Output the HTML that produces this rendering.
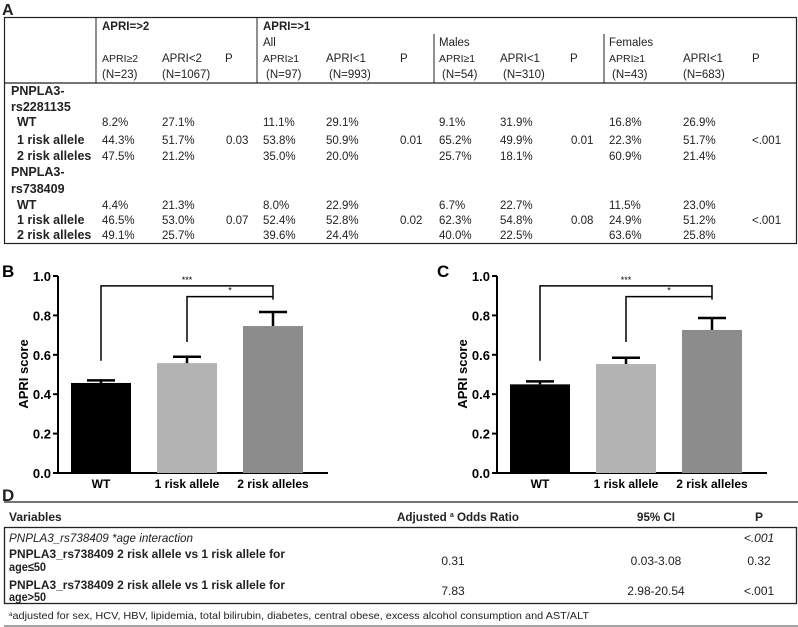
<!DOCTYPE html>
<html><head><meta charset="utf-8"><style>
body{margin:0;background:#fff;}
svg{display:block;font-family:"Liberation Sans",Arial,sans-serif;}
</style></head><body>
<svg id="fig" width="798" height="627" viewBox="0 0 798 627">
<!-- Panel A -->
<g font-size="11.5" fill="#222">
<text x="2" y="15" font-size="16" font-weight="bold">A</text>
<rect x="4.5" y="17.5" width="792" height="226" fill="none" stroke="#222" stroke-width="1.2"/>
<line x1="4" y1="83" x2="797" y2="83" stroke="#222" stroke-width="1.2"/>
<line x1="96" y1="18" x2="96" y2="83" stroke="#222"/>
<line x1="257" y1="18" x2="257" y2="83" stroke="#222"/>
<line x1="434" y1="34" x2="434" y2="83" stroke="#222"/>
<line x1="604" y1="34" x2="604" y2="83" stroke="#222"/>
<g font-weight="bold"><text x="102" y="30">APRI=&gt;2</text><text x="263" y="30">APRI=&gt;1</text></g>
<text x="263" y="46">All</text><text x="439" y="46">Males</text><text x="609" y="46">Females</text>
<g font-size="10.5">
<text x="102" y="62">APRI≥2</text><text x="162" y="62" font-size="11.5">APRI&lt;2</text><text x="225" y="62" font-size="11.5">P</text>
<text x="263" y="62">APRI≥1</text><text x="326" y="62" font-size="11.5">APRI&lt;1</text><text x="400" y="62" font-size="11.5">P</text>
<text x="439" y="62">APRI≥1</text><text x="500" y="62" font-size="11.5">APRI&lt;1</text><text x="570" y="62" font-size="11.5">P</text>
<text x="609" y="62">APRI≥1</text><text x="683" y="62" font-size="11.5">APRI&lt;1</text><text x="752" y="62" font-size="11.5">P</text>
</g>
<text x="102" y="78">(N=23)</text><text x="162" y="78">(N=1067)</text>
<text x="266" y="78">(N=97)</text><text x="329" y="78">(N=993)</text>
<text x="442" y="78">(N=54)</text><text x="503" y="78">(N=310)</text>
<text x="612" y="78">(N=43)</text><text x="683" y="78">(N=683)</text>
<g font-weight="bold" font-size="12.5"><text x="11" y="95">PNPLA3-</text><text x="11" y="111">rs2281135</text>
<text x="17" y="126">WT</text><text x="17" y="144">1 risk allele</text><text x="17" y="160">2 risk alleles</text>
<text x="11" y="176">PNPLA3-</text><text x="11" y="193">rs738409</text>
<text x="17" y="209">WT</text><text x="17" y="224">1 risk allele</text><text x="17" y="239">2 risk alleles</text></g>
<g>
<text x="102" y="126">8.2%</text><text x="162" y="126">27.1%</text><text x="263" y="126">11.1%</text><text x="326" y="126">29.1%</text><text x="439" y="126">9.1%</text><text x="500" y="126">31.9%</text><text x="609" y="126">16.8%</text><text x="683" y="126">26.9%</text>
<text x="102" y="144">44.3%</text><text x="162" y="144">51.7%</text><text x="226" y="144">0.03</text><text x="263" y="144">53.8%</text><text x="326" y="144">50.9%</text><text x="400" y="144">0.01</text><text x="439" y="144">65.2%</text><text x="500" y="144">49.9%</text><text x="571" y="144">0.01</text><text x="609" y="144">22.3%</text><text x="683" y="144">51.7%</text><text x="752" y="144">&lt;.001</text>
<text x="102" y="160">47.5%</text><text x="162" y="160">21.2%</text><text x="263" y="160">35.0%</text><text x="326" y="160">20.0%</text><text x="439" y="160">25.7%</text><text x="500" y="160">18.1%</text><text x="609" y="160">60.9%</text><text x="683" y="160">21.4%</text>
<text x="102" y="209">4.4%</text><text x="162" y="209">21.3%</text><text x="263" y="209">8.0%</text><text x="326" y="209">22.9%</text><text x="439" y="209">6.7%</text><text x="500" y="209">22.7%</text><text x="609" y="209">11.5%</text><text x="683" y="209">23.0%</text>
<text x="102" y="224">46.5%</text><text x="162" y="224">53.0%</text><text x="226" y="224">0.07</text><text x="263" y="224">52.4%</text><text x="326" y="224">52.8%</text><text x="400" y="224">0.02</text><text x="439" y="224">62.3%</text><text x="500" y="224">54.8%</text><text x="571" y="224">0.08</text><text x="609" y="224">24.9%</text><text x="683" y="224">51.2%</text><text x="752" y="224">&lt;.001</text>
<text x="102" y="239">49.1%</text><text x="162" y="239">25.7%</text><text x="263" y="239">39.6%</text><text x="326" y="239">24.4%</text><text x="439" y="239">40.0%</text><text x="500" y="239">22.5%</text><text x="609" y="239">63.6%</text><text x="683" y="239">25.8%</text>
</g>
</g>
<text x="2" y="277" font-size="17" font-weight="bold">B</text>
<text x="437" y="277" font-size="17" font-weight="bold">C</text>
<g id="chartB"></g>
<g id="chartC"></g>
<!-- Panel D -->
<g font-size="12" fill="#222">
<text x="2" y="501" font-size="17" font-weight="bold">D</text>
<line x1="4" y1="502" x2="798" y2="502" stroke="#222" stroke-width="1.2"/>
<text x="9" y="521" font-weight="bold">Variables</text>
<text x="397" y="521" font-weight="bold" textLength="122" lengthAdjust="spacingAndGlyphs">Adjusted <tspan font-size="7" dy="-4">a</tspan><tspan dy="4"> Odds Ratio</tspan></text>
<text x="637" y="521" font-weight="bold" textLength="38" lengthAdjust="spacingAndGlyphs">95% CI</text>
<text x="759" y="521" font-weight="bold" text-anchor="middle">P</text>
<rect x="4.5" y="527.5" width="792" height="76" fill="none" stroke="#222" stroke-width="1.3"/>
<text x="9" y="542" font-style="italic" textLength="184" lengthAdjust="spacingAndGlyphs">PNPLA3_rs738409 *age interaction</text>
<text x="759" y="542" font-style="italic" text-anchor="middle">&lt;.001</text>
<text x="9" y="558" font-weight="bold" textLength="276" lengthAdjust="spacingAndGlyphs">PNPLA3_rs738409 2 risk allele vs 1 risk allele for</text>
<text x="9" y="571" font-weight="bold" textLength="37" lengthAdjust="spacingAndGlyphs">age≤50</text>
<text x="453" y="565" text-anchor="middle">0.31</text><text x="656" y="565" text-anchor="middle">0.03-3.08</text><text x="759" y="565" text-anchor="middle">0.32</text>
<text x="9" y="589" font-weight="bold" textLength="276" lengthAdjust="spacingAndGlyphs">PNPLA3_rs738409 2 risk allele vs 1 risk allele for</text>
<text x="9" y="601" font-weight="bold" textLength="37" lengthAdjust="spacingAndGlyphs">age&gt;50</text>
<text x="453" y="595" text-anchor="middle">7.83</text><text x="656" y="595" text-anchor="middle">2.98-20.54</text><text x="759" y="595" text-anchor="middle">&lt;.001</text>
<text x="9" y="619" font-size="10.5" textLength="580" lengthAdjust="spacingAndGlyphs"><tspan font-size="6" dy="-3">a</tspan><tspan dy="3">adjusted for sex, HCV, HBV, lipidemia, total bilirubin, diabetes, central obese, excess alcohol consumption and AST/ALT</tspan></text>
<line x1="4" y1="626" x2="798" y2="626" stroke="#444"/>
</g>
</svg>
<script>
const categories=["WT","1 risk allele","2 risk alleles"];
const valuesB=[0.457,0.558,0.746];
const errorsB=[0.47,0.59,0.817];
const valuesC=[0.45,0.553,0.726];
const errorsC=[0.465,0.585,0.787];
const tickLabels=["0.0","0.2","0.4","0.6","0.8","1.0"];
const colors=["#000","#b3b3b3","#8c8c8c"];
const NS="http://www.w3.org/2000/svg";
function mk(p,t,a){const e=document.createElementNS(NS,t);for(const k in a)e.setAttribute(k,a[k]);p.appendChild(e);return e;}
function draw(gid,axisX,vals,errs){
  const g=document.getElementById(gid);
  const y=v=>473-v*197;
  const x=i=>axisX+43+i*86;
  mk(g,'line',{x1:axisX,y1:276,x2:axisX,y2:473,stroke:'#000','stroke-width':2});
  mk(g,'line',{x1:axisX,y1:473,x2:axisX+270,y2:473,stroke:'#000','stroke-width':2});
  tickLabels.forEach(t=>{const v=parseFloat(t);
    const l=mk(g,'line',{x1:axisX-5,y1:y(v),x2:axisX,y2:y(v),stroke:'#000','stroke-width':2});
    
    
    const tx=mk(g,'text',{x:axisX-7,y:y(v)+5,'text-anchor':'end','font-size':13,'font-weight':'bold'});tx.textContent=t;
    
    
  });
  const yt=mk(g,'text',{transform:`translate(${axisX-30},374) rotate(-90)`,'text-anchor':'middle','font-size':13,'font-weight':'bold'});
  yt.textContent='APRI score';
  
  
  categories.forEach((c,i)=>{
    const b=mk(g,'rect',{x:x(i)-30,y:y(vals[i]),width:60,height:y(0)-y(vals[i]),fill:colors[i]});
    
    
    const e=mk(g,'path',{d:`M${x(i)},${y(vals[i])}V${y(errs[i])}M${x(i)-14},${y(errs[i])}H${x(i)+14}`,stroke:'#000','stroke-width':2.5,fill:'none'});
    
    
    const t=mk(g,'text',{x:x(i),y:488,'text-anchor':'middle','font-size':12,'font-weight':'bold'});t.textContent=c;
    
    
  });
  const b1=mk(g,'path',{d:`M${x(0)},${y(0.57)}V${y(0.95)}H${x(2)}V${y(0.88)}`,stroke:'#000','stroke-width':1.5,fill:'none'});
  
  
  const b2=mk(g,'path',{d:`M${x(1)},${y(0.665)}V${y(0.895)}H${x(2)}`,stroke:'#000','stroke-width':1.5,fill:'none'});
  
  
  const s1=mk(g,'text',{x:(x(0)+x(2))/2,y:y(0.95)-3,'text-anchor':'middle','font-size':9});s1.textContent='***';
  
  
  const s2=mk(g,'text',{x:(x(1)+x(2))/2,y:y(0.895)-3,'text-anchor':'middle','font-size':9});s2.textContent='*';
  
  
}
draw('chartB',58,valuesB,errorsB);
draw('chartC',497,valuesC,errorsC);
</script>
</body></html>
